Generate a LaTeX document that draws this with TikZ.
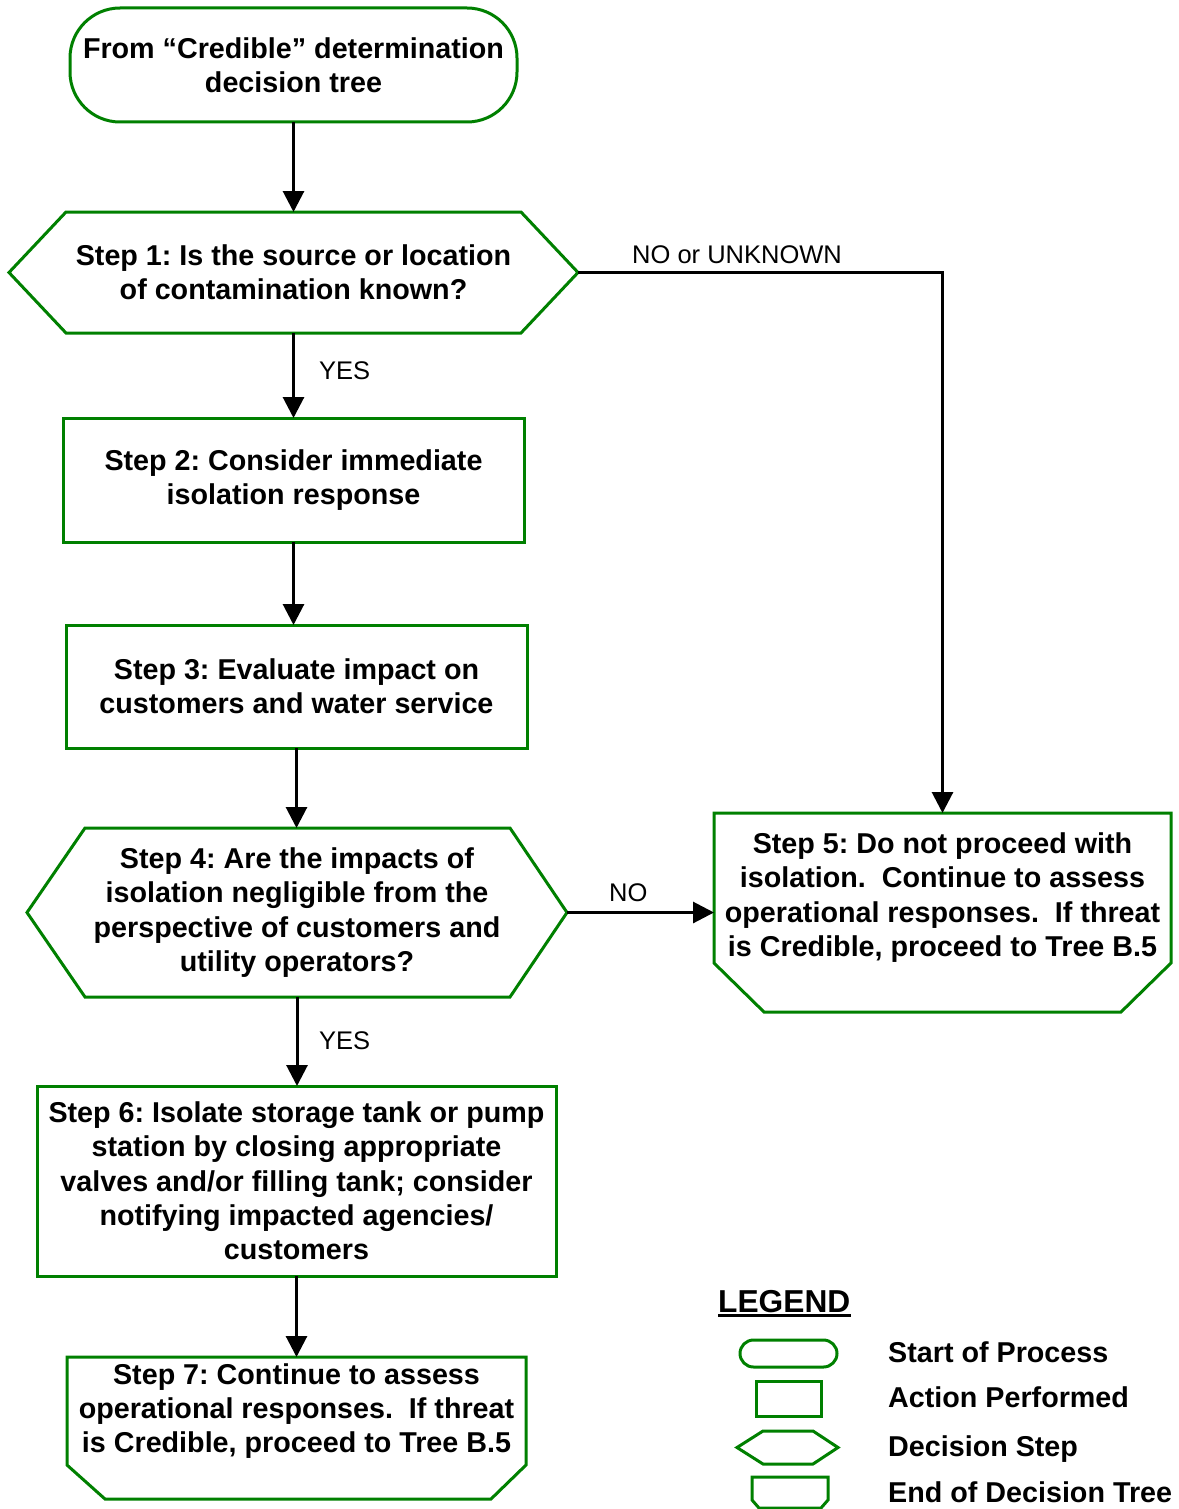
\documentclass[tikz,border=0pt]{standalone}
\usepackage{fontspec}
\setmainfont{Liberation Sans}
\usetikzlibrary{arrows.meta}
\definecolor{boxgreen}{RGB}{0,128,0}
\frenchspacing
\newcommand\stepfont{\bfseries\fontsize{28.7pt}{34.3pt}\selectfont}
\newcommand\lblfont{\fontsize{25.5pt}{30pt}\selectfont}
\newcommand\legtitlefont{\bfseries\fontsize{31.7pt}{36pt}\selectfont}
\begin{document}
\begin{tikzpicture}[x=1pt,y=-1pt,
  outline/.style={draw=boxgreen, line width=3pt, line join=miter},
  shapebox/.style={inner sep=0pt, outer sep=0pt, align=center, font=\stepfont},
  flow/.style={draw=black, line width=3pt, -{Triangle[length=21pt,width=21pt]}},
  lbl/.style={font=\lblfont, inner sep=0pt, anchor=base west},
  legtext/.style={font=\stepfont, inner sep=0pt, anchor=base west},
]
\path[use as bounding box] (0,0) rectangle (1178,1509);

% start of process
\node[shapebox, outline, rounded corners=50pt, minimum width=447pt, minimum height=114pt]
  (start) at (293.5,65) {From “Credible” determination\\decision tree};

% step 1 (decision)
\node[shapebox, minimum width=569pt, minimum height=121pt] (s1) at (293.5,272.5)
  {Step 1: Is the source or location\\of contamination known?};
\draw[outline] (s1.west) -- ([xshift=57pt]s1.north west) -- ([xshift=-57pt]s1.north east)
  -- (s1.east) -- ([xshift=-57pt]s1.south east) -- ([xshift=57pt]s1.south west) -- cycle;

% step 2 (action)
\node[shapebox, outline, minimum width=461pt, minimum height=124pt] (s2) at (293.5,480)
  {Step 2: Consider immediate\\isolation response};

% step 3 (action)
\node[shapebox, outline, minimum width=461pt, minimum height=123pt] (s3) at (296.5,686.5)
  {Step 3: Evaluate impact on\\customers and water service};

% step 4 (decision)
\node[shapebox, minimum width=540pt, minimum height=169pt] (s4) at (297,912.5)
  {Step 4: Are the impacts of\\isolation negligible from the\\perspective of customers and\\utility operators?};
\draw[outline] (s4.west) -- ([xshift=58pt]s4.north west) -- ([xshift=-57pt]s4.north east)
  -- (s4.east) -- ([xshift=-57pt]s4.south east) -- ([xshift=58pt]s4.south west) -- cycle;

% step 5 (end of tree)
\node[shapebox, minimum width=457pt, minimum height=169pt] (s5) at (942.5,897.5)
  {Step 5: Do not proceed with\\isolation.~ Continue to assess\\operational responses.~ If threat\\is Credible, proceed to Tree B.5};
\draw[outline] ([shift={(0,-19)}]s5.south west) -- (s5.north west) -- (s5.north east)
  -- ([shift={(0,-19)}]s5.south east)
  -- ([shift={(-50,30)}]s5.south east) -- ([shift={(50,30)}]s5.south west) -- cycle;

% step 6 (action)
\node[shapebox, outline, minimum width=519pt, minimum height=190pt] (s6) at (296.5,1181)
  {Step 6: Isolate storage tank or pump\\station by closing appropriate\\valves and/or filling tank; consider\\notifying impacted agencies/\\customers};

% step 7 (end of tree)
\node[shapebox, minimum width=459pt, minimum height=108pt] (s7) at (296.5,1411)
  {Step 7: Continue to assess\\operational responses.~ If threat\\is Credible, proceed to Tree B.5};
\draw[outline] (s7.south west) -- (s7.north west) -- (s7.north east) -- (s7.south east)
  -- ([shift={(-35,34)}]s7.south east) -- ([shift={(38,34)}]s7.south west) -- cycle;

% connectors
\draw[flow] (start.south) -- (s1.north);
\draw[flow] (s1.south) -- (s2.north);
\draw[flow] (s2.south) -- (s2.south |- s3.north);
\draw[flow] (s3.south) -- (s3.south |- s4.north);
\draw[flow] (s4.south) -- (s4.south |- s6.north);
\draw[flow] (s6.south) -- (s7.north);
\draw[flow] (s4.east) -- (s4.east -| s5.west);
\draw[flow] (s1.east) -| (s5.north);

% connector labels
\node[lbl] (yes1) at (319,379) {YES};
\node[lbl] (yes2) at (319,1049) {YES};
\node[lbl] (nounk) at (632,263) {NO or UNKNOWN};
\node[lbl] (no1) at (609,901) {NO};

% legend
\node[font=\legtitlefont, inner sep=0pt, anchor=base west] (legtitle) at (718,1312) {LEGEND};
\draw[line width=2.5pt] ([yshift=-3.5pt]legtitle.base west) -- ([yshift=-3.5pt]legtitle.base east);

\node[outline, rounded corners=13.5pt, inner sep=0pt, minimum width=97pt, minimum height=27pt]
  (legstart) at (788.5,1353.5) {};
\node[outline, inner sep=0pt, minimum width=65pt, minimum height=35pt]
  (legaction) at (788.5,1398.5) {};
\node[inner sep=0pt, outer sep=0pt, minimum width=101pt, minimum height=33pt]
  (legdecision) at (787.5,1447.5) {};
\draw[outline] (legdecision.west) -- ([xshift=26pt]legdecision.north west)
  -- ([xshift=-25pt]legdecision.north east) -- (legdecision.east)
  -- ([xshift=-25pt]legdecision.south east) -- ([xshift=26pt]legdecision.south west) -- cycle;
\node[inner sep=0pt, outer sep=0pt, minimum width=76pt, minimum height=23pt]
  (legend) at (790,1488.5) {};
\draw[outline] (legend.south west) -- (legend.north west) -- (legend.north east)
  -- (legend.south east) -- ([shift={(-7,8)}]legend.south east)
  -- ([shift={(7,8)}]legend.south west) -- cycle;

\node[legtext] (lt1) at (888,1362) {Start of Process};
\node[legtext] (lt2) at (888,1407) {Action Performed};
\node[legtext] (lt3) at (888,1456) {Decision Step};
\node[legtext] (lt4) at (888,1502) {End of Decision Tree};
\end{tikzpicture}
\end{document}
